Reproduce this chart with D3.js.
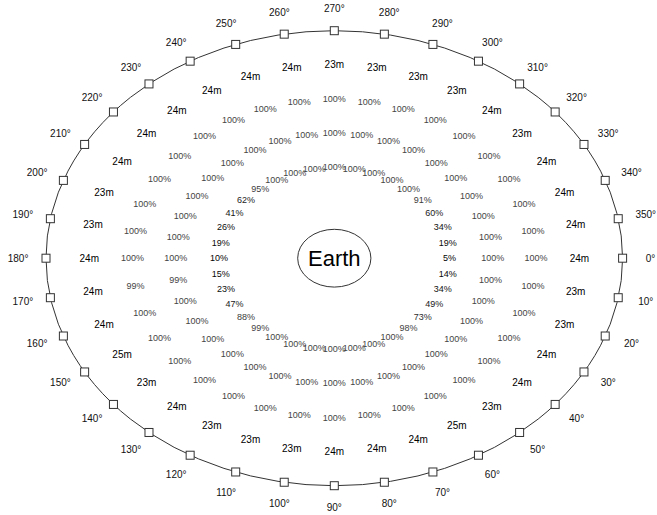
<!DOCTYPE html>
<html>
<head>
<meta charset="utf-8">
<script src="https://cdn.jsdelivr.net/npm/d3@7"></script>
<style>
    body { margin: 0; background: #fff; }
    text { font-family: "Liberation Sans", Arial, Helvetica, sans-serif; }
</style>
</head>
<body>
<div id="chart-area" style="width:657px;height:515px;"></div>
<script>
// bearings around the ring (degrees, 0 = right, clockwise)
const bearings = [0, 10, 20, 30, 40, 50, 60, 70, 80, 90, 100, 110, 120, 130, 140, 150, 160, 170,
    180, 190, 200, 210, 220, 230, 240, 250, 260, 270, 280, 290, 300, 310, 320, 330, 340, 350];

// coverage percentage, inner ring
const coverageRing1 = [5, 14, 34, 49, 73, 98, 100, 100, 100, 100, 100, 100, 100, 99, 88, 47, 23, 15,
    10, 19, 26, 41, 62, 95, 100, 100, 100, 100, 100, 100, 100, 100, 91, 60, 34, 19];

// coverage percentage, second ring
const coverageRing2 = [100, 100, 100, 100, 100, 100, 100, 100, 100, 100, 100, 100, 100, 100, 100, 100, 100, 99,
    100, 100, 100, 100, 100, 100, 100, 100, 100, 100, 100, 100, 100, 100, 100, 100, 100, 100];

// coverage percentage, third ring
const coverageRing3 = [100, 100, 100, 100, 100, 100, 100, 100, 100, 100, 100, 100, 100, 100, 100, 100, 100, 99,
    100, 100, 100, 100, 100, 100, 100, 100, 100, 100, 100, 100, 100, 100, 100, 100, 100, 100];

// range in metres, outer ring
const rangeMetres = [24, 23, 23, 24, 24, 23, 25, 24, 24, 24, 23, 23, 23, 24, 23, 25, 24, 24,
    24, 23, 23, 24, 24, 24, 24, 24, 24, 23, 23, 23, 23, 24, 23, 24, 24, 24];

const centerLabel = "Earth";

class RingChart {
    constructor(parentElement) {
        this.parentElement = parentElement;
        this.initVis();
    }

    initVis() {
        let vis = this;

        vis.width = 657;
        vis.height = 515;
        vis.cx = 334.3;
        vis.cy = 258.2;

        vis.svg = d3.select("#" + vis.parentElement)
            .append("svg")
            .attr("width", vis.width)
            .attr("height", vis.height)
            .append("g")
            .attr("transform", "translate(" + vis.cx + "," + vis.cy + ")");

        // radius fraction -> pixels, the plot is stretched into an ellipse
        vis.xRadius = d3.scaleLinear().domain([0, 1]).range([0, 288.3]);
        vis.yRadius = d3.scaleLinear().domain([0, 1]).range([0, 227.5]);
        vis.angle = d3.scaleLinear().domain([0, 360]).range([0, 2 * Math.PI]);

        // ring index -> radius fraction
        vis.ringRadius = d3.scaleLinear().domain([0, 3]).range([0.4, 0.85]);

        vis.pos = (deg, r) => [
            vis.xRadius(r) * Math.cos(vis.angle(deg)),
            vis.yRadius(r) * Math.sin(vis.angle(deg))
        ];

        vis.pctColor = d3.scaleLinear().domain([0, 50, 100]).range(["#000", "#1a1a1a", "#444"]);

        vis.wrangleData();
    }

    wrangleData() {
        let vis = this;

        vis.rings = [coverageRing1, coverageRing2, coverageRing3].map((vals, i) =>
            bearings.map((b, j) => ({ bearing: b, value: vals[j], text: vals[j] + "%", ring: i, pct: true }))
        );
        vis.rings.push(bearings.map((b, j) => ({ bearing: b, value: rangeMetres[j], text: rangeMetres[j] + "m", ring: 3, pct: false })));

        vis.updateVis();
    }

    updateVis() {
        let vis = this;

        // outer boundary
        vis.svg.append("ellipse")
            .attr("rx", vis.xRadius(1))
            .attr("ry", vis.yRadius(1))
            .attr("fill", "none")
            .attr("stroke", "#333")
            .attr("stroke-width", 1);

        // markers
        const sq = 8;
        vis.svg.selectAll(".marker")
            .data(bearings)
            .enter()
            .append("rect")
            .attr("class", "marker")
            .attr("x", d => vis.pos(d, 1)[0] - sq / 2)
            .attr("y", d => vis.pos(d, 1)[1] - sq / 2)
            .attr("width", sq)
            .attr("height", sq)
            .attr("fill", "#fff")
            .attr("stroke", "#333")
            .attr("stroke-width", 1);

        // bearing labels
        vis.svg.selectAll(".bearing-label")
            .data(bearings)
            .enter()
            .append("text")
            .attr("class", "bearing-label")
            .attr("x", d => vis.pos(d, 1.097)[0])
            .attr("y", d => vis.pos(d, 1.097)[1])
            .attr("dy", "0.35em")
            .attr("text-anchor", "middle")
            .attr("font-size", 10)
            .attr("fill", "#111")
            .text(d => d + "°");

        // ring values (inner ring crowds at top/bottom, as in the source)
        vis.rings.forEach((ring, i) => {
            vis.svg.selectAll(".ring-" + i)
                .data(ring)
                .enter()
                .append("text")
                .attr("class", "ring-" + i)
                .attr("x", d => vis.pos(d.bearing, vis.ringRadius(d.ring))[0])
                .attr("y", d => vis.pos(d.bearing, vis.ringRadius(d.ring))[1])
                .attr("dy", "0.35em")
                .attr("text-anchor", "middle")
                .attr("font-size", d => d.pct ? 9 : 10)
                .attr("fill", d => d.pct ? vis.pctColor(d.value) : "#000")
                .text(d => d.text);
        });

        // center body
        vis.svg.append("ellipse")
            .attr("rx", vis.xRadius(0.127))
            .attr("ry", vis.yRadius(0.127))
            .attr("fill", "#fff")
            .attr("stroke", "#333")
            .attr("stroke-width", 1);

        vis.svg.append("text")
            .attr("text-anchor", "middle")
            .attr("dy", "0.35em")
            .attr("font-size", 22)
            .attr("fill", "#000")
            .text(centerLabel);
    }
}

new RingChart("chart-area");
</script>
</body>
</html>
